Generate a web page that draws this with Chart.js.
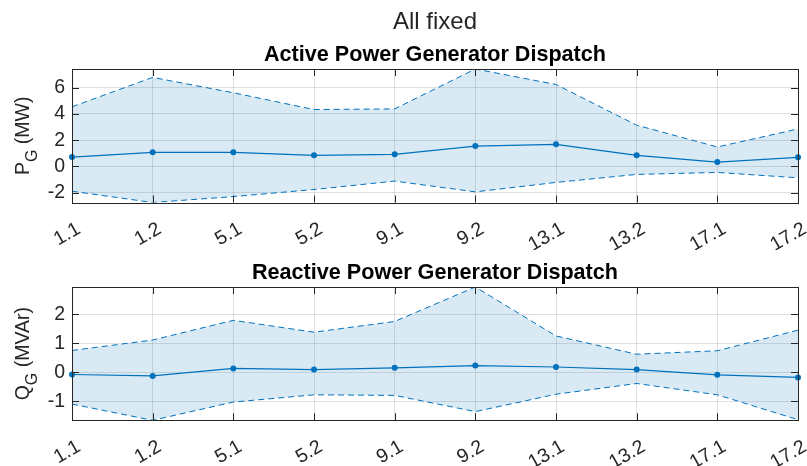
<!DOCTYPE html>
<html>
<head>
<meta charset="utf-8">
<script src="https://cdn.jsdelivr.net/npm/chart.js@4"></script>
<style>
  body { margin: 0; background: #fff; }
  .panel { position: absolute; left: 0; }
</style>
</head>
<body>
<div class="panel" style="top:0"><canvas id="pg" width="807" height="250"></canvas></div>
<div class="panel" style="top:250px"><canvas id="qg" width="807" height="216"></canvas></div>
<script>
const generators = ['1.1', '1.2', '5.1', '5.2', '9.1', '9.2', '13.1', '13.2', '17.1', '17.2'];

// active power (MW): mean and band limits per generator
const pgMean = [0.71, 1.07, 1.07, 0.84, 0.92, 1.55, 1.68, 0.84, 0.33, 0.69];
const pgUpper = [4.54, 6.78, 5.61, 4.33, 4.38, 7.42, 6.24, 3.14, 1.48, 2.85];
const pgLower = [-1.89, -2.75, -2.30, -1.76, -1.12, -1.94, -1.22, -0.61, -0.46, -0.87];
const pgTicks = [-2, 0, 2, 4, 6];

// reactive power (MVAr)
const qgMean = [-0.08, -0.13, 0.13, 0.09, 0.15, 0.23, 0.18, 0.09, -0.09, -0.18];
const qgUpper = [0.75, 1.11, 1.79, 1.38, 1.75, 2.94, 1.25, 0.62, 0.74, 1.45];
const qgLower = [-1.10, -1.66, -1.03, -0.78, -0.80, -1.36, -0.76, -0.39, -0.78, -1.64];
const qgTicks = [-1, 0, 1, 2];

const FONT = '"Liberation Sans", Arial, Helvetica, sans-serif';
const BLUE = '#0072BD';
const INK = '#262626';

// axes box, inward tick marks, titles and the subscripted y label
const frame = {
  id: 'frame',
  afterDraw(chart, args, opts) {
    const { ctx, chartArea: a, scales } = chart;
    const tl = 7;
    ctx.save();
    ctx.strokeStyle = INK;
    ctx.lineWidth = 1;
    ctx.beginPath();
    scales.x.ticks.forEach((t, i) => {
      const x = Math.round(scales.x.getPixelForTick(i)) + 0.5;
      ctx.moveTo(x, a.top); ctx.lineTo(x, a.top + tl);
      ctx.moveTo(x, a.bottom); ctx.lineTo(x, a.bottom - tl);
    });
    scales.y.ticks.forEach(t => {
      const y = Math.round(scales.y.getPixelForValue(t.value)) + 0.5;
      ctx.moveTo(a.left, y); ctx.lineTo(a.left + tl, y);
      ctx.moveTo(a.right, y); ctx.lineTo(a.right - tl, y);
    });
    ctx.stroke();
    ctx.strokeRect(Math.round(a.left) + 0.5, Math.round(a.top) + 0.5,
      Math.round(a.right - a.left), Math.round(a.bottom - a.top));

    const cx = (a.left + a.right) / 2;
    ctx.textAlign = 'center';
    ctx.textBaseline = 'alphabetic';
    if (opts.suptitle) {
      ctx.fillStyle = INK;
      ctx.font = '24px ' + FONT;
      ctx.fillText(opts.suptitle, cx, 29);
    }
    ctx.fillStyle = '#000';
    ctx.font = 'bold 21.6px ' + FONT;
    ctx.fillText(opts.title, cx, a.top - 8.5);

    // y label: main letter, subscript, unit
    const [sym, sub, unit] = opts.ylabel;
    const big = '19.5px ' + FONT, small = '16px ' + FONT;
    ctx.font = big;
    const w1 = ctx.measureText(sym).width, w3 = ctx.measureText(unit).width;
    ctx.font = small;
    const w2 = ctx.measureText(sub).width;
    const total = w1 + w2 + w3;
    ctx.translate(28.5, (a.top + a.bottom) / 2);
    ctx.rotate(-Math.PI / 2);
    ctx.textAlign = 'left';
    ctx.fillStyle = INK;
    let x = -total / 2;
    ctx.font = big; ctx.fillText(sym, x, 0); x += w1;
    ctx.font = small; ctx.fillText(sub, x, 8.5); x += w2;
    ctx.font = big; ctx.fillText(unit, x, 0);
    ctx.restore();
  }
};

function makePanel(id, mean, upper, lower, ticks, cfg) {
  return new Chart(document.getElementById(id), {
    type: 'line',
    data: {
      labels: generators,
      datasets: [
        { data: upper, borderColor: BLUE, borderWidth: 1, borderDash: [6, 4], pointRadius: 0,
          fill: '+1', backgroundColor: 'rgba(0,114,189,0.15)' },
        { data: lower, borderColor: BLUE, borderWidth: 1, borderDash: [6, 4], pointRadius: 0,
          fill: false },
        { data: mean, borderColor: BLUE, borderWidth: 1.2, pointRadius: 3,
          pointBackgroundColor: BLUE, pointBorderWidth: 0, fill: false, clip: false }
      ]
    },
    options: {
      responsive: false,
      animation: false,
      layout: { padding: { top: cfg.top, right: 9, left: 0, bottom: 0 } },
      plugins: {
        legend: { display: false },
        tooltip: { enabled: false },
        frame: { title: cfg.title, suptitle: cfg.suptitle, ylabel: cfg.ylabel }
      },
      scales: {
        x: {
          offset: false,
          grid: { color: 'rgba(0,0,0,0.12)', drawTicks: false },
          border: { display: false },
          ticks: { autoSkip: false, minRotation: 30, maxRotation: 30, padding: 15, labelOffset: 7,
            color: INK, font: { family: FONT, size: 19.5 } },
          afterFit: s => {
            s.height = cfg.xHeight;
            // labels may hang past the plot edges; keep the plot width fixed
            s.paddingLeft = 0;
            s.paddingRight = 0;
          }
        },
        y: {
          min: Math.min(...lower),
          max: Math.max(...upper),
          grid: { color: 'rgba(0,0,0,0.12)', drawTicks: false },
          border: { display: false },
          ticks: { padding: 7, color: INK, font: { family: FONT, size: 19.5 } },
          afterBuildTicks: s => { s.ticks = ticks.map(v => ({ value: v })); },
          afterFit: s => { s.width = 72; }
        }
      }
    },
    plugins: [frame]
  });
}

makePanel('pg', pgMean, pgUpper, pgLower, pgTicks, {
  top: 69, xHeight: 47.5, suptitle: 'All fixed',
  title: 'Active Power Generator Dispatch', ylabel: ['P', 'G', ' (MW)']
});
makePanel('qg', qgMean, qgUpper, qgLower, qgTicks, {
  top: 37, xHeight: 45.7,
  title: 'Reactive Power Generator Dispatch', ylabel: ['Q', 'G', ' (MVAr)']
});
</script>
</body>
</html>
